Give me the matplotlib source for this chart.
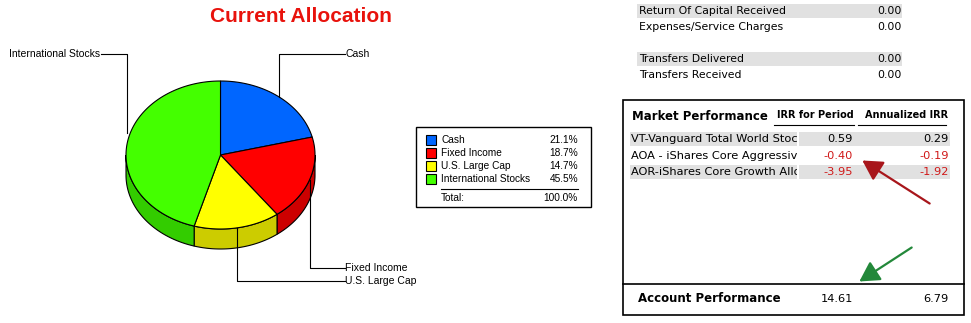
import numpy as np
import matplotlib.pyplot as plt
from matplotlib.patches import Polygon, Rectangle, FancyArrowPatch
from matplotlib.transforms import Bbox

# Allocation data
alloc_labels = ["Cash", "Fixed Income", "U.S. Large Cap", "International Stocks"]
alloc_pct = [21.1, 18.7, 14.7, 45.5]
top_colors = ["#0066FF", "#FF0000", "#FFFF00", "#44FF00"]
side_colors = ["#0052CC", "#CC0000", "#CCCC00", "#33CC00"]

# Cash flow rows
flow_labels = ["Return Of Capital Received", "Expenses/Service Charges",
               "Transfers Delivered", "Transfers Received"]
flow_values = [0.00, 0.00, 0.00, 0.00]

# Market performance (names are cut off by the column in the report)
fund_names = ["VT-Vanguard Total World Stock",
              "AOA - iShares Core Aggressive",
              "AOR-iShares Core Growth Alloca"]
irr_period = [0.59, -0.40, -3.95]
irr_annual = [0.29, -0.19, -1.92]
acct_period = 14.61
acct_annual = 6.79

W, H = 971, 323
fig = plt.figure(figsize=(W / 100, H / 100), dpi=100)
ax = fig.add_axes([0, 0, 1, 1])
ax.set_xlim(0, W)
ax.set_ylim(H, 0)
ax.axis("off")

SANS = "Liberation Sans"
UI = "DejaVu Sans"

# ---- 3D pie ----
cx, cy, rx, ry, depth = 220.5, 155, 94.5, 74, 20


def ell(t):
    t = np.radians(t)
    return cx + rx * np.cos(t), cy - ry * np.sin(t)


bounds = [90.0]
for p in alloc_pct:
    bounds.append(bounds[-1] - p / sum(alloc_pct) * 360)

# sides (front half only: angles between -180 and 0)
for i in range(len(alloc_pct)):
    a0, a1 = bounds[i], bounds[i + 1]
    lo, hi = max(a1, -180), min(a0, 0)
    if lo >= hi:
        continue
    ts = np.linspace(hi, lo, 60)
    xs, ys = ell(ts)
    pts = list(zip(xs, ys)) + list(zip(xs[::-1], ys[::-1] + depth))
    ax.add_patch(Polygon(pts, closed=True, fc=side_colors[i], ec="black", lw=0.8))

# tops
for i in range(len(alloc_pct)):
    ts = np.linspace(bounds[i], bounds[i + 1], 120)
    xs, ys = ell(ts)
    pts = [(cx, cy)] + list(zip(xs, ys))
    ax.add_patch(Polygon(pts, closed=True, fc=top_colors[i], ec="black", lw=0.8))

# leader lines + labels
label_y = [54, 268, 281, 54]
for i, lab in enumerate(alloc_labels):
    mid = (bounds[i] + bounds[i + 1]) / 2
    px, py = ell(mid)
    if px > cx:
        ax.plot([px, px, 345], [py, label_y[i], label_y[i]], color="black", lw=0.8)
        ax.text(345, label_y[i], lab, fontsize=7.5, family=SANS, va="center", ha="left")
    else:
        ax.plot([px, px, 101], [py - 12, label_y[i], label_y[i]], color="black", lw=0.8)
        ax.text(100, label_y[i], lab, fontsize=7.5, family=SANS, va="center", ha="right")

ax.text(301, 17, "Current Allocation", color="#E8120C", fontsize=15, fontweight="bold",
        family=SANS, ha="center", va="center")

# ---- legend box ----
ax.add_patch(Rectangle((416, 127), 175, 80, fc="white", ec="black", lw=1))
row_y = [140, 153, 166, 179]
for i, lab in enumerate(alloc_labels):
    ax.add_patch(Rectangle((426, row_y[i] - 5), 10, 10, fc=top_colors[i], ec="black", lw=0.8))
    ax.text(441, row_y[i], lab, fontsize=7.3, family=SANS, va="center")
    ax.text(578, row_y[i], f"{alloc_pct[i]:.1f}%", fontsize=7.3, family=SANS, va="center", ha="right")
ax.plot([441, 578], [189, 189], color="black", lw=0.8)
ax.text(441, 198, "Total:", fontsize=7.3, family=SANS, va="center")
ax.text(578, 198, f"{sum(alloc_pct):.1f}%", fontsize=7.3, family=SANS, va="center", ha="right")

# ---- cash flow rows ----
flow_y = [11, 27, 59, 75]
for i, lab in enumerate(flow_labels):
    if i % 2 == 0:
        ax.add_patch(Rectangle((637, flow_y[i] - 7), 265, 14, fc="#E1E1E1", ec="none"))
    ax.text(639, flow_y[i], lab, fontsize=7.8, family=UI, va="center")
    ax.text(902, flow_y[i], f"{flow_values[i]:.2f}", fontsize=7.8, family=UI, va="center", ha="right")

# ---- market performance box ----
ax.add_patch(Rectangle((623, 100), 341, 215, fc="white", ec="black", lw=1.2))
ax.plot([623, 964], [284, 284], color="black", lw=1.2)
ax.text(632, 116, "Market Performance", fontsize=8.5, fontweight="bold", family=UI, va="center")
ax.text(815, 115, "IRR for Period", fontsize=7, fontweight="bold", family=UI, va="center", ha="center")
ax.text(907, 115, "Annualized IRR", fontsize=7, fontweight="bold", family=UI, va="center", ha="center")
ax.plot([774, 854], [125, 125], color="black", lw=0.8)
ax.plot([858, 946], [125, 125], color="black", lw=0.8)

fund_y = [139, 156, 172]
for i, name in enumerate(fund_names):
    if i % 2 == 0:
        ax.add_patch(Rectangle((630, fund_y[i] - 7), 167, 14, fc="#E1E1E1", ec="none"))
        ax.add_patch(Rectangle((799, fund_y[i] - 7), 151, 14, fc="#E1E1E1", ec="none"))
    t = ax.text(631, fund_y[i], name, fontsize=8.2, family=UI, va="center")
    (x0, y0), (x1, y1) = ax.transData.transform([(630, fund_y[i] - 9), (797, fund_y[i] + 9)])
    t.set_clip_box(Bbox.from_extents(min(x0, x1), min(y0, y1), max(x0, x1), max(y0, y1)))
    t.set_clip_on(True)
    c1 = "#D01818" if irr_period[i] < 0 else "black"
    c2 = "#D01818" if irr_annual[i] < 0 else "black"
    ax.text(853, fund_y[i], f"{irr_period[i]:.2f}", fontsize=8.2, family=UI, va="center", ha="right", color=c1)
    ax.text(949, fund_y[i], f"{irr_annual[i]:.2f}", fontsize=8.2, family=UI, va="center", ha="right", color=c2)

ax.text(638, 299, "Account Performance", fontsize=8.5, fontweight="bold", family=UI, va="center")
ax.text(853, 299, f"{acct_period:.2f}", fontsize=8.2, family=UI, va="center", ha="right")
ax.text(949, 299, f"{acct_annual:.2f}", fontsize=8.2, family=UI, va="center", ha="right")

# arrows
ax.add_patch(FancyArrowPatch((932, 205), (860, 159), arrowstyle="-|>,head_length=8,head_width=4.5",
                             color="#A8161B", lw=1.6, mutation_scale=1.5))
ax.add_patch(FancyArrowPatch((914, 246), (857, 283), arrowstyle="-|>,head_length=8,head_width=4.5",
                             color="#23883A", lw=1.6, mutation_scale=1.5))

fig.savefig("out.png", dpi=100)
